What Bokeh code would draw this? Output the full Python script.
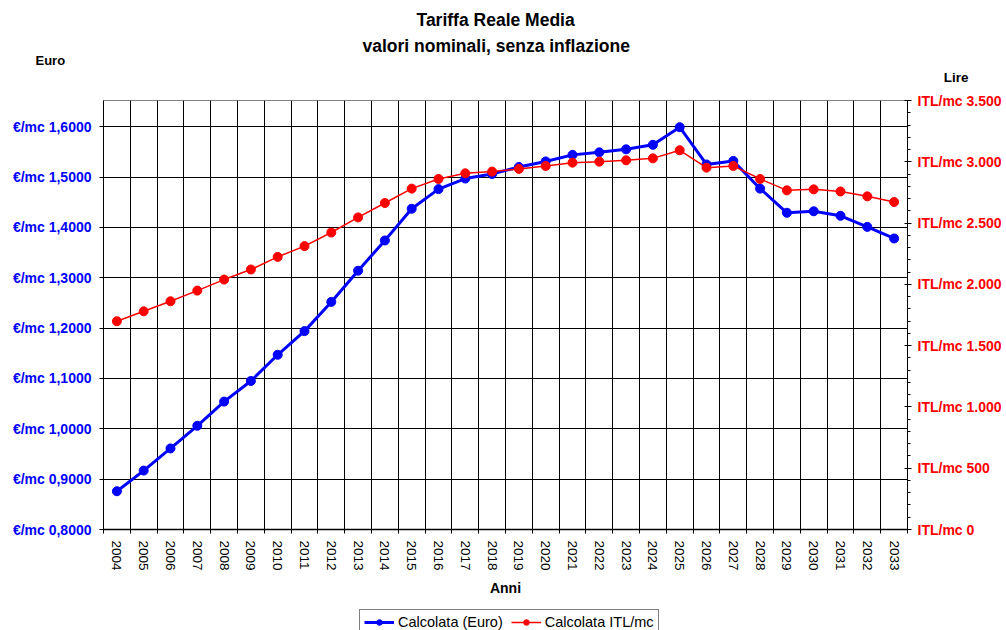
from bokeh.plotting import figure
from bokeh.layouts import column
from bokeh.models import (Range1d, LinearAxis, FixedTicker, CustomJSTickFormatter,
                          Title, Legend, LegendItem)
from bokeh.embed import file_html
from bokeh.resources import INLINE

FONT = "Liberation Sans"

years = list(range(2004, 2034))
euro = [0.876, 0.917, 0.961, 1.006, 1.054, 1.095, 1.147, 1.194, 1.252, 1.314,
        1.374, 1.437, 1.476, 1.497, 1.506, 1.520, 1.531, 1.544, 1.549, 1.555,
        1.564, 1.599, 1.525, 1.532, 1.477, 1.429, 1.432, 1.423, 1.401, 1.378]
itl = [1699, 1780, 1862, 1949, 2039, 2121, 2224, 2312, 2423, 2546,
       2664, 2781, 2860, 2906, 2920, 2942, 2966, 2993, 3001, 3012,
       3028, 3094, 2952, 2966, 2860, 2767, 2775, 2758, 2718, 2672]
euro_ticks = [0.8, 0.9, 1.0, 1.1, 1.2, 1.3, 1.4, 1.5, 1.6]
itl_ticks = [0, 500, 1000, 1500, 2000, 2500, 3000, 3500]
itl_minor = list(range(0, 3501, 100))

title1 = "Tariffa Reale Media"
title2 = "valori nominali, senza inflazione"
labels = ["Calcolata (Euro)", "Calcolata ITL/mc"]

p = figure(width=1006, height=609, output_backend="svg", toolbar_location=None,
           x_range=Range1d(years[0] - 0.5, years[-1] + 0.5),
           y_range=Range1d(0.8, 1.652),
           min_border_left=103, min_border_right=99, min_border_top=100, min_border_bottom=80)
p.title.visible = False
p.extra_y_ranges = {"itl": Range1d(0, 3500)}
p.outline_line_color = "#808080"
p.background_fill_color = "white"
p.border_fill_color = "white"

# x axis
xa = p.xaxis[0]
xa.ticker = FixedTicker(ticks=years, minor_ticks=[y - 0.5 for y in years] + [years[-1] + 0.5])
xa.major_tick_out = 0
xa.major_tick_in = 0
xa.minor_tick_out = 4
xa.minor_tick_in = 0
xa.major_label_orientation = "vertical"
xa.major_label_standoff = 7
xa.major_label_text_font = FONT
xa.major_label_text_font_size = "13.5px"
xa.major_label_text_color = "black"
xa.axis_label = "Anni"
xa.axis_label_text_font = FONT
xa.axis_label_text_font_style = "bold"
xa.axis_label_text_font_size = "14px"
xa.axis_label_text_color = "black"
xa.axis_label_standoff = 6
xa.axis_line_color = "black"
xa.axis_line_width = 1.5

p.xgrid.grid_line_color = None
p.xgrid.minor_grid_line_color = "black"
p.xgrid.minor_grid_line_width = 1

# left y axis
ya = p.yaxis[0]
ya.ticker = FixedTicker(ticks=euro_ticks, minor_ticks=[])
ya.formatter = CustomJSTickFormatter(code='return "\u20ac/mc " + tick.toFixed(4).replace(".", ",");')
ya.major_label_text_font = FONT
ya.major_label_text_font_style = "bold"
ya.major_label_text_font_size = "14px"
ya.major_label_text_color = "#0000FF"
ya.major_tick_out = 4
ya.major_tick_in = 0
ya.major_label_standoff = 8
ya.axis_line_color = "black"
p.ygrid.grid_line_color = "black"
p.ygrid.grid_line_width = 1

# right y axis
ra = LinearAxis(y_range_name="itl",
                ticker=FixedTicker(ticks=itl_ticks, minor_ticks=itl_minor),
                formatter=CustomJSTickFormatter(code='''
var s = Math.round(tick).toString();
return "ITL/mc " + s.replace(/\\B(?=(\\d{3})+(?!\\d))/g, ".");
'''))
ra.major_label_text_font = FONT
ra.major_label_text_font_style = "bold"
ra.major_label_text_font_size = "14px"
ra.major_label_text_color = "#FF0000"
ra.major_tick_out = 4
ra.major_tick_in = 3
ra.minor_tick_out = 3
ra.minor_tick_in = 0
ra.major_label_standoff = 6
ra.axis_line_color = "black"
p.add_layout(ra, "right")

# series
p.line(years, euro, color="#0000FF", line_width=3)
p.scatter(years, euro, size=9, color="#0000FF")
p.line(years, itl, y_range_name="itl", color="#FF0000", line_width=1.5)
p.scatter(years, itl, y_range_name="itl", size=9, color="#FF0000")

# titles and axis captions (first added = closest to the frame)
t_lire = Title(text="Lire", align="right", offset=-61, standoff=31, text_color="black",
               text_font=FONT, text_font_style="bold", text_font_size="13.5px")
t_euro = Title(text="Euro", align="left", offset=-68, standoff=-31, text_color="black",
               text_font=FONT, text_font_style="bold", text_font_size="13px")
t_2 = Title(text=title2, align="left", offset=259, standoff=-6, text_color="black",
            text_font=FONT, text_font_style="bold", text_font_size="17.5px")
t_1 = Title(text=title1, align="left", offset=313, standoff=13, text_color="black",
            text_font=FONT, text_font_style="bold", text_font_size="17.5px")
for t in [t_lire, t_euro, t_2, t_1]:
    p.add_layout(t, "above")

# legend strip below the chart
lf = figure(width=1006, height=21, output_backend="svg", toolbar_location=None,
            x_range=Range1d(0, 1), y_range=Range1d(0, 1), title=None,
            x_axis_location=None, y_axis_location=None, min_border=0)
lf.grid.visible = False
lf.outline_line_color = None
lf.background_fill_color = "white"
lf.border_fill_color = "white"
lb1 = lf.line(years, euro, color="#0000FF", line_width=3)
lb2 = lf.scatter(years, euro, size=9, color="#0000FF")
lr1 = lf.line(years, itl, color="#FF0000", line_width=1.5)
lr2 = lf.scatter(years, itl, size=9, color="#FF0000")
legend = Legend(items=[LegendItem(label=labels[0], renderers=[lb1, lb2]),
                       LegendItem(label=labels[1], renderers=[lr1, lr2])],
                orientation="horizontal", location=(256, -5),
                border_line_color="black", border_line_width=1,
                background_fill_color="white", background_fill_alpha=1,
                label_text_font=FONT, label_text_font_size="14.5px",
                label_text_color="black",
                glyph_width=30, glyph_height=14, padding=4, spacing=8,
                label_standoff=4, margin=0)
lf.add_layout(legend)

open("out.html", "w").write(file_html(column(p, lf, spacing=0), INLINE))
